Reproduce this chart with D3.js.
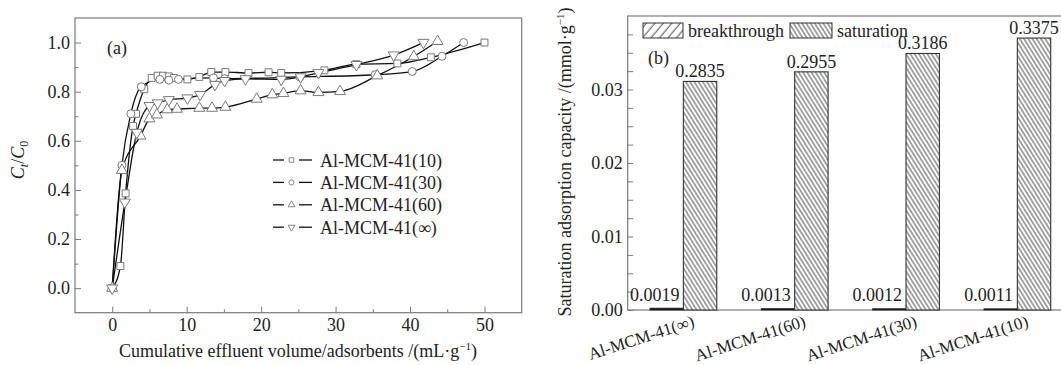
<!DOCTYPE html>
<html><head><meta charset="utf-8">
<script src="https://cdn.jsdelivr.net/npm/d3@7"></script>
<style>
body{margin:0;background:#fff;}
svg{display:block;font-family:"Liberation Serif","Times New Roman",serif;}
</style></head><body>
<svg id="c" width="1061" height="365"></svg>
<script>
// ---------- Panel (a) data ----------
const seriesNames = ["Al-MCM-41(10)", "Al-MCM-41(30)", "Al-MCM-41(60)", "Al-MCM-41(∞)"];
const s10 = [[0,0],[1.1,0.09],[1.8,0.386],[2.8,0.66],[3.2,0.71],[4.3,0.81],[5.3,0.856],[6.1,0.865],[6.8,0.865],[7.6,0.862],[8.3,0.856],[10.1,0.85],[11.7,0.86],[13.3,0.88],[15.2,0.88],[18.3,0.876],[21,0.879],[22.7,0.876],[28.5,0.887],[32.8,0.912],[38.3,0.915],[42.8,0.94],[50,1.0]];
const s30 = [[0,0],[1.3,0.50],[2.5,0.71],[3.9,0.82],[6.4,0.85],[7.6,0.847],[8.9,0.85],[13.6,0.856],[15.1,0.853],[25.2,0.86],[35.3,0.869],[40.3,0.882],[44.3,0.944],[47.2,1.0]];
const s60 = [[0,0],[1.3,0.48],[3.8,0.62],[5.0,0.69],[6.0,0.706],[7.4,0.727],[8.7,0.729],[11.7,0.733],[13.4,0.733],[15.2,0.737],[19.4,0.77],[21.5,0.788],[23,0.793],[25.3,0.804],[27.7,0.797],[30.6,0.801],[35.6,0.865],[40.5,0.943],[43.7,1.005]];
const sInf = [[0,0],[1.7,0.35],[3.3,0.634],[5.0,0.743],[6.1,0.754],[7.6,0.767],[10.1,0.774],[11.8,0.788],[13.8,0.829],[15.1,0.845],[17.9,0.852],[22.7,0.85],[25.3,0.86],[27.7,0.877],[32.8,0.91],[37.8,0.949],[41.8,1.0]];
const xTicksA = [0, 10, 20, 30, 40, 50];
const xMinorA = [5, 15, 25, 35, 45];
const yTicksA = [0.0, 0.2, 0.4, 0.6, 0.8, 1.0];
const yMinorA = [0.1, 0.3, 0.5, 0.7, 0.9];

// ---------- Panel (b) data ----------
const categoriesB = ["Al-MCM-41(∞)", "Al-MCM-41(60)", "Al-MCM-41(30)", "Al-MCM-41(10)"];
const breakthroughVals = [0.00025, 0.00018, 0.00017, 0.00016];
const saturationVals = [0.0311, 0.0324, 0.0349, 0.0370];
const breakthroughLabels = ["0.0019", "0.0013", "0.0012", "0.0011"];
const saturationLabels = ["0.2835", "0.2955", "0.3186", "0.3375"];
const yTicksB = [0, 0.01, 0.02, 0.03];
const yMinorB = [0.0025,0.005,0.0075,0.0125,0.015,0.0175,0.0225,0.025,0.0275,0.0325,0.035,0.0375];

const FONT = 18;
const GREY = "#7a7a7a";
const svg = d3.select("#c");
const defs = svg.append("defs");

// hatch patterns
const pSat = defs.append("pattern").attr("id","hSat").attr("patternUnits","userSpaceOnUse")
  .attr("width",3.6).attr("height",10).attr("patternTransform","rotate(-32)");
pSat.append("rect").attr("width",3.6).attr("height",10).attr("fill","#fff");
pSat.append("line").attr("x1",1.8).attr("x2",1.8).attr("y1",0).attr("y2",10).attr("stroke","#333").attr("stroke-width",0.9);
const pBr = defs.append("pattern").attr("id","hBr").attr("patternUnits","userSpaceOnUse")
  .attr("width",6.5).attr("height",10).attr("patternTransform","rotate(40)");
pBr.append("rect").attr("width",6.5).attr("height",10).attr("fill","#fff");
pBr.append("line").attr("x1",3).attr("x2",3).attr("y1",0).attr("y2",10).attr("stroke","#333").attr("stroke-width",0.9);

function styleAxis(g){
  g.select(".domain").remove();
  g.selectAll(".tick line").attr("stroke",GREY);
  g.selectAll("text").attr("font-size",FONT).attr("font-family","Liberation Serif, serif").attr("fill","#222");
}

// ================= Panel (a) =================
const xA = d3.scaleLinear().domain([-5,55]).range([75,521.7]);
const yA = d3.scaleLinear().domain([-0.1,1.1]).range([312.7,18]);
const gA = svg.append("g");

gA.append("g").attr("transform",`translate(0,${yA(-0.1)})`)
  .call(d3.axisBottom(xA).tickValues(xTicksA).tickSize(-6).tickPadding(6).tickFormat(d3.format("d")))
  .call(styleAxis);
gA.append("g").attr("transform",`translate(0,${yA(-0.1)})`)
  .call(d3.axisBottom(xA).tickValues(xMinorA).tickSize(-3.5).tickFormat(""))
  .call(styleAxis);
gA.append("g").attr("transform",`translate(${xA(-5)},0)`)
  .call(d3.axisLeft(yA).tickValues(yTicksA).tickSize(-6).tickPadding(5).tickFormat(d3.format(".1f")))
  .call(styleAxis);
gA.append("g").attr("transform",`translate(${xA(-5)},0)`)
  .call(d3.axisLeft(yA).tickValues(yMinorA).tickSize(-3.5).tickFormat(""))
  .call(styleAxis);

gA.append("rect").attr("x",xA(-5)).attr("y",yA(1.1)).attr("width",xA(55)-xA(-5)).attr("height",yA(-0.1)-yA(1.1))
  .attr("fill","none").attr("stroke",GREY).attr("stroke-width",1.2);

const seriesData = [s10, s30, s60, sInf];
const symbols = [d3.symbolSquare, d3.symbolCircle, d3.symbolTriangle, d3.symbolTriangle];
const symSizes = [48, 50, 52, 52];
const symRot = [0, 0, 0, 180];
const line = d3.line().x(d=>xA(d[0])).y(d=>yA(d[1])).curve(d3.curveMonotoneX);

seriesData.forEach((s)=>{
  gA.append("path").attr("d",line(s)).attr("fill","none").attr("stroke","#111").attr("stroke-width",1.3);
});
seriesData.forEach((s,i)=>{
  const sym = d3.symbol().type(symbols[i]).size(symSizes[i]);
  gA.append("g").selectAll("path").data(s).join("path")
    .attr("d",sym)
    .attr("transform",d=>`translate(${xA(d[0])},${yA(d[1])}) rotate(${symRot[i]})`)
    .attr("fill","#fff").attr("stroke",GREY).attr("stroke-width",1);
});

// legend (a)
seriesNames.forEach((n,i)=>{
  const y = 160 + 22.4*i;
  const lg = gA.append("g");
  lg.append("line").attr("x1",273).attr("x2",284).attr("y1",y).attr("y2",y).attr("stroke","#111").attr("stroke-width",1.3);
  lg.append("line").attr("x1",299).attr("x2",312).attr("y1",y).attr("y2",y).attr("stroke","#111").attr("stroke-width",1.3);
  lg.append("path").attr("d",d3.symbol().type(symbols[i]).size(20)())
    .attr("transform",`translate(291.5,${y}) rotate(${symRot[i]})`)
    .attr("fill","#fff").attr("stroke",GREY).attr("stroke-width",0.9);
  lg.append("text").attr("x",320).attr("y",y+6.5).attr("font-size",FONT).attr("fill","#222").text(n);
});

gA.append("text").attr("x",107).attr("y",54).attr("font-size",FONT).attr("fill","#222").text("(a)");

// axis titles (a)
const xt = gA.append("text").attr("x",298).attr("y",357).attr("text-anchor","middle").attr("font-size",FONT).attr("fill","#222");
xt.append("tspan").text("Cumulative effluent volume/adsorbents /(mL·g");
xt.append("tspan").attr("font-size",11).attr("dy",-7).text("−1");
xt.append("tspan").attr("dy",7).text(")");

const yt = gA.append("text").attr("transform","translate(24,160) rotate(-90)").attr("text-anchor","middle").attr("font-size",FONT).attr("fill","#222");
yt.append("tspan").attr("font-style","italic").text("C");
yt.append("tspan").attr("font-style","italic").attr("font-size",12).attr("dy",4).text("t");
yt.append("tspan").attr("dy",-4).text("/");
yt.append("tspan").attr("font-style","italic").text("C");
yt.append("tspan").attr("font-size",12).attr("dy",4).text("0");

// ================= Panel (b) =================
const xB = d3.scaleBand().domain(categoriesB).range([627.7,1073]).paddingInner(0).paddingOuter(0);
const yB = d3.scaleLinear().domain([0,0.04]).range([310,16]);
const bw = xB.bandwidth()*0.3;
const gB = svg.append("g");

gB.append("g").attr("transform",`translate(${xB.range()[0]},0)`)
  .call(d3.axisLeft(yB).tickValues(yTicksB).tickSize(-5.5).tickPadding(5).tickFormat(d3.format(".2f")))
  .call(styleAxis);
gB.append("g").attr("transform",`translate(${xB.range()[0]},0)`)
  .call(d3.axisLeft(yB).tickValues(yMinorB).tickSize(-5.5).tickFormat(""))
  .call(styleAxis);

gB.append("rect").attr("x",xB.range()[0]).attr("y",yB(0.04)).attr("width",xB.range()[1]-xB.range()[0]).attr("height",yB(0)-yB(0.04))
  .attr("fill","none").attr("stroke",GREY).attr("stroke-width",1.2);

categoriesB.forEach((c,i)=>{
  const cx = xB(c) + xB.bandwidth()/2;
  gB.append("rect").attr("x",cx-bw).attr("y",yB(breakthroughVals[i])).attr("width",bw).attr("height",yB(0)-yB(breakthroughVals[i]))
    .attr("fill","#111").attr("stroke","#222").attr("stroke-width",0.8);
  gB.append("rect").attr("x",cx).attr("y",yB(saturationVals[i])).attr("width",bw).attr("height",yB(0)-yB(saturationVals[i]))
    .attr("fill","url(#hSat)").attr("stroke","#333").attr("stroke-width",1.1);
  gB.append("text").attr("x",cx+bw/2).attr("y",yB(saturationVals[i])-4).attr("text-anchor","middle")
    .attr("font-size",FONT).attr("fill","#222").text(saturationLabels[i]);
  gB.append("text").attr("x",cx-bw/2-12).attr("y",301).attr("text-anchor","middle")
    .attr("font-size",FONT).attr("fill","#222").text(breakthroughLabels[i]);
  gB.append("text").attr("transform",`translate(${cx+12},326) rotate(-18)`).attr("text-anchor","end")
    .attr("font-size",17).attr("fill","#222").text(c);
});

// legend (b)
gB.append("rect").attr("x",643).attr("y",23).attr("width",40).attr("height",15).attr("fill","url(#hBr)").attr("stroke","#333").attr("stroke-width",1);
gB.append("text").attr("x",688).attr("y",37).attr("font-size",FONT).attr("fill","#222").text("breakthrough");
gB.append("rect").attr("x",790).attr("y",23).attr("width",42).attr("height",15).attr("fill","url(#hSat)").attr("stroke","#333").attr("stroke-width",1);
gB.append("text").attr("x",837).attr("y",37).attr("font-size",FONT).attr("fill","#222").text("saturation");

gB.append("text").attr("x",648).attr("y",64).attr("font-size",FONT).attr("fill","#222").text("(b)");

const ytb = gB.append("text").attr("transform","translate(571,162) rotate(-90)").attr("text-anchor","middle").attr("font-size",FONT).attr("fill","#222");
ytb.append("tspan").text("Saturation adsorption capacity /(mmol·g");
ytb.append("tspan").attr("font-size",11).attr("dy",-7).text("−1");
ytb.append("tspan").attr("dy",7).text(")");
</script>
</body></html>
